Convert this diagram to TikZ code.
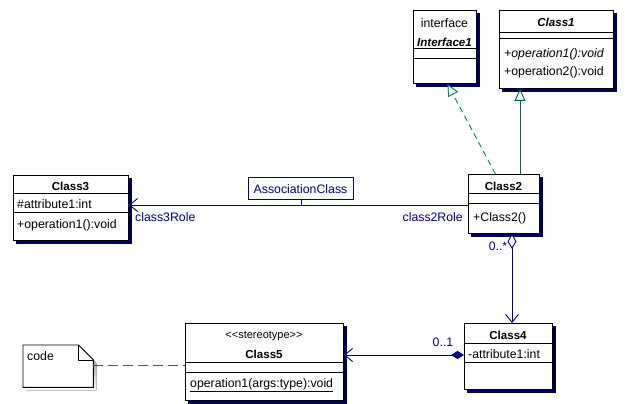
\documentclass[tikz,border=0pt]{standalone}
\usepackage{fontspec}
\setmainfont{Liberation Sans}
\usetikzlibrary{arrows.meta,calc}
\definecolor{navy}{RGB}{0,0,128}
\definecolor{shade}{RGB}{0,0,90}
\definecolor{genline}{RGB}{0,96,96}
\definecolor{realline}{RGB}{0,128,110}
\definecolor{notelink}{RGB}{160,32,160}
\begin{document}
\begin{tikzpicture}[x=1pt,y=-1pt,
  font=\fontsize{12.3}{14}\selectfont,
  classbox/.style={draw=black, fill=white, line width=0.9pt, inner sep=0pt,
    anchor=north west,
    preaction={fill=shade, draw=shade, transform canvas={xshift=3pt, yshift=-3pt}}},
  part/.style={draw=black, line width=0.9pt},
  txt/.style={inner sep=0pt, anchor=mid, yshift=-1.5pt},
  ltxt/.style={inner sep=0pt, anchor=mid west, yshift=-1.5pt},
  ctitle/.style={txt, font=\fontsize{11.6}{14}\selectfont\bfseries},
  ititle/.style={txt, font=\fontsize{11.6}{14}\selectfont\bfseries\itshape},
  navytxt/.style={inner sep=0pt, text=navy, yshift=-1.5pt},
  assoc/.style={draw=navy, line width=0.9pt},
  openhead/.style={-{Straight Barb[length=8pt,width=13pt]}},
  gen/.style={draw=genline, line width=0.9pt,
    -{Triangle[length=12pt,width=11pt,fill=white]}},
  real/.style={draw=realline, line width=0.9pt, dash pattern=on 6pt off 4pt,
    -{Triangle[length=12pt,width=11pt,fill=white]}},
  notedash/.style={draw=notelink, line width=0.9pt, dash pattern=on 10pt off 5pt},
]
\useasboundingbox[fill=white] (0,0) rectangle (625,404);

% ---------- Interface1 ----------
\node[classbox, minimum width=63pt, minimum height=73pt] (i1) at (413,10) {};
\draw[part] (413,48) -- (476,48);
\draw[part] (413,58) -- (476,58);
\node[txt] (i1s) at (444.5,23) {interface};
\node[ititle] (i1n) at (444.5,42) {Interface1};

% ---------- Class1 ----------
\node[classbox, minimum width=114pt, minimum height=78pt] (c1) at (499,10) {};
\draw[part] (499,32) -- (613,32);
\draw[part] (499,38) -- (613,38);
\node[ititle] (c1n) at (556,22) {Class1};
\node[ltxt, font=\fontsize{12.3}{14}\selectfont\itshape] (c1o1) at (504,53) {+operation1():void};
\node[ltxt] (c1o2) at (504,71) {+operation2():void};

% ---------- Class3 ----------
\node[classbox, minimum width=115pt, minimum height=65pt] (c3) at (13,175) {};
\draw[part] (13,193) -- (128,193);
\draw[part] (13,212) -- (128,212);
\node[ctitle] (c3n) at (70.5,186) {Class3};
\node[ltxt] (c3a) at (17,204) {\#attribute1:int};
\node[ltxt] (c3o) at (17,224) {+operation1():void};

% ---------- Class2 ----------
\node[classbox, minimum width=71pt, minimum height=59pt] (c2) at (468,174) {};
\draw[part] (468,193) -- (539,193);
\draw[part] (468,203) -- (539,203);
\node[ctitle] (c2n) at (503.5,186) {Class2};
\node[ltxt] (c2o) at (473,217) {+Class2()};

% ---------- Class4 ----------
\node[classbox, minimum width=88pt, minimum height=66pt] (c4) at (464,323) {};
\draw[part] (464,343) -- (552,343);
\draw[part] (464,362) -- (552,362);
\node[ctitle] (c4n) at (508,335) {Class4};
\node[ltxt] (c4a) at (468,354) {-attribute1:int};

% ---------- Class5 ----------
\node[classbox, minimum width=158pt, minimum height=77pt] (c5) at (185,323) {};
\draw[part] (185,362) -- (343,362);
\draw[part] (185,372) -- (343,372);
\node[txt, font=\fontsize{11}{13}\selectfont] (c5s) at (264,334) {<{}<stereotype>{}>};
\node[ctitle] (c5n) at (264,354) {Class5};
\node[ltxt] (c5o) at (190,383) {\underline{operation1(args:type):void}};

% ---------- note ----------
\node[inner sep=0pt, minimum width=70pt, minimum height=42pt, anchor=north west] (note) at (23,345) {};
\fill[shade] ($(note.north west)+(3,3)$) -- ($(note.north east)+(-12,3)$) -- ($(note.north east)+(3,18)$)
  -- ($(note.south east)+(3,3)$) -- ($(note.south west)+(3,3)$) -- cycle;
\draw[part, fill=white] (note.north west) -- ($(note.north east)+(-15,0)$) -- ($(note.north east)+(0,15)$)
  -- (note.south east) -- (note.south west) -- cycle;
\draw[part] ($(note.north east)+(-15,0)$) -- ($(note.north east)+(-15,15)$) -- ($(note.north east)+(0,15)$);
\node[ltxt] (notet) at (27,356) {code};

% ---------- association class ----------
\node[draw=navy, line width=0.9pt, fill=white, inner sep=0pt, minimum width=105pt,
  minimum height=22pt, anchor=north west] (ac) at (248,177) {};
\node[navytxt, anchor=mid] (act) at (300.5,189) {AssociationClass};

% ---------- connectors ----------
\coordinate (ay) at (0,205);
\draw[assoc, openhead] (c2.west |- ay) -- (c3.east |- ay);
\draw[assoc] (ac.south) -- (ac.south |- ay);
\node[navytxt, anchor=mid west] (r3) at (135,217) {class3Role};
\node[navytxt, anchor=mid east] (r2) at (463,217) {class2Role};

\coordinate (gx) at (520,0);
\draw[gen] (gx |- c2.north) -- (gx |- c1.south);
\draw[real] ($(c2.north)+(-8.5,0)$) -- ($(i1.south)+(2.5,0)$);

\coordinate (aggx) at (512,0);
\draw[assoc, {Diamond[length=15pt,width=9pt,fill=white]}-{Straight Barb[length=8pt,width=13pt]}]
  (aggx |- c2.south) -- (aggx |- c4.north);
\node[navytxt, anchor=mid] (m1) at (498,246) {0..*};

\coordinate (cy) at (0,355);
\draw[assoc, {Diamond[length=13pt,width=8pt,fill=navy]}-{Straight Barb[length=8pt,width=13pt]}]
  (c4.west |- cy) -- (c5.east |- cy);
\node[navytxt, anchor=mid] (m2) at (443,342) {0..1};

\coordinate (ny) at (0,365);
\draw[notedash] (note.east |- ny) -- (c5.west |- ny);
\end{tikzpicture}
\end{document}
